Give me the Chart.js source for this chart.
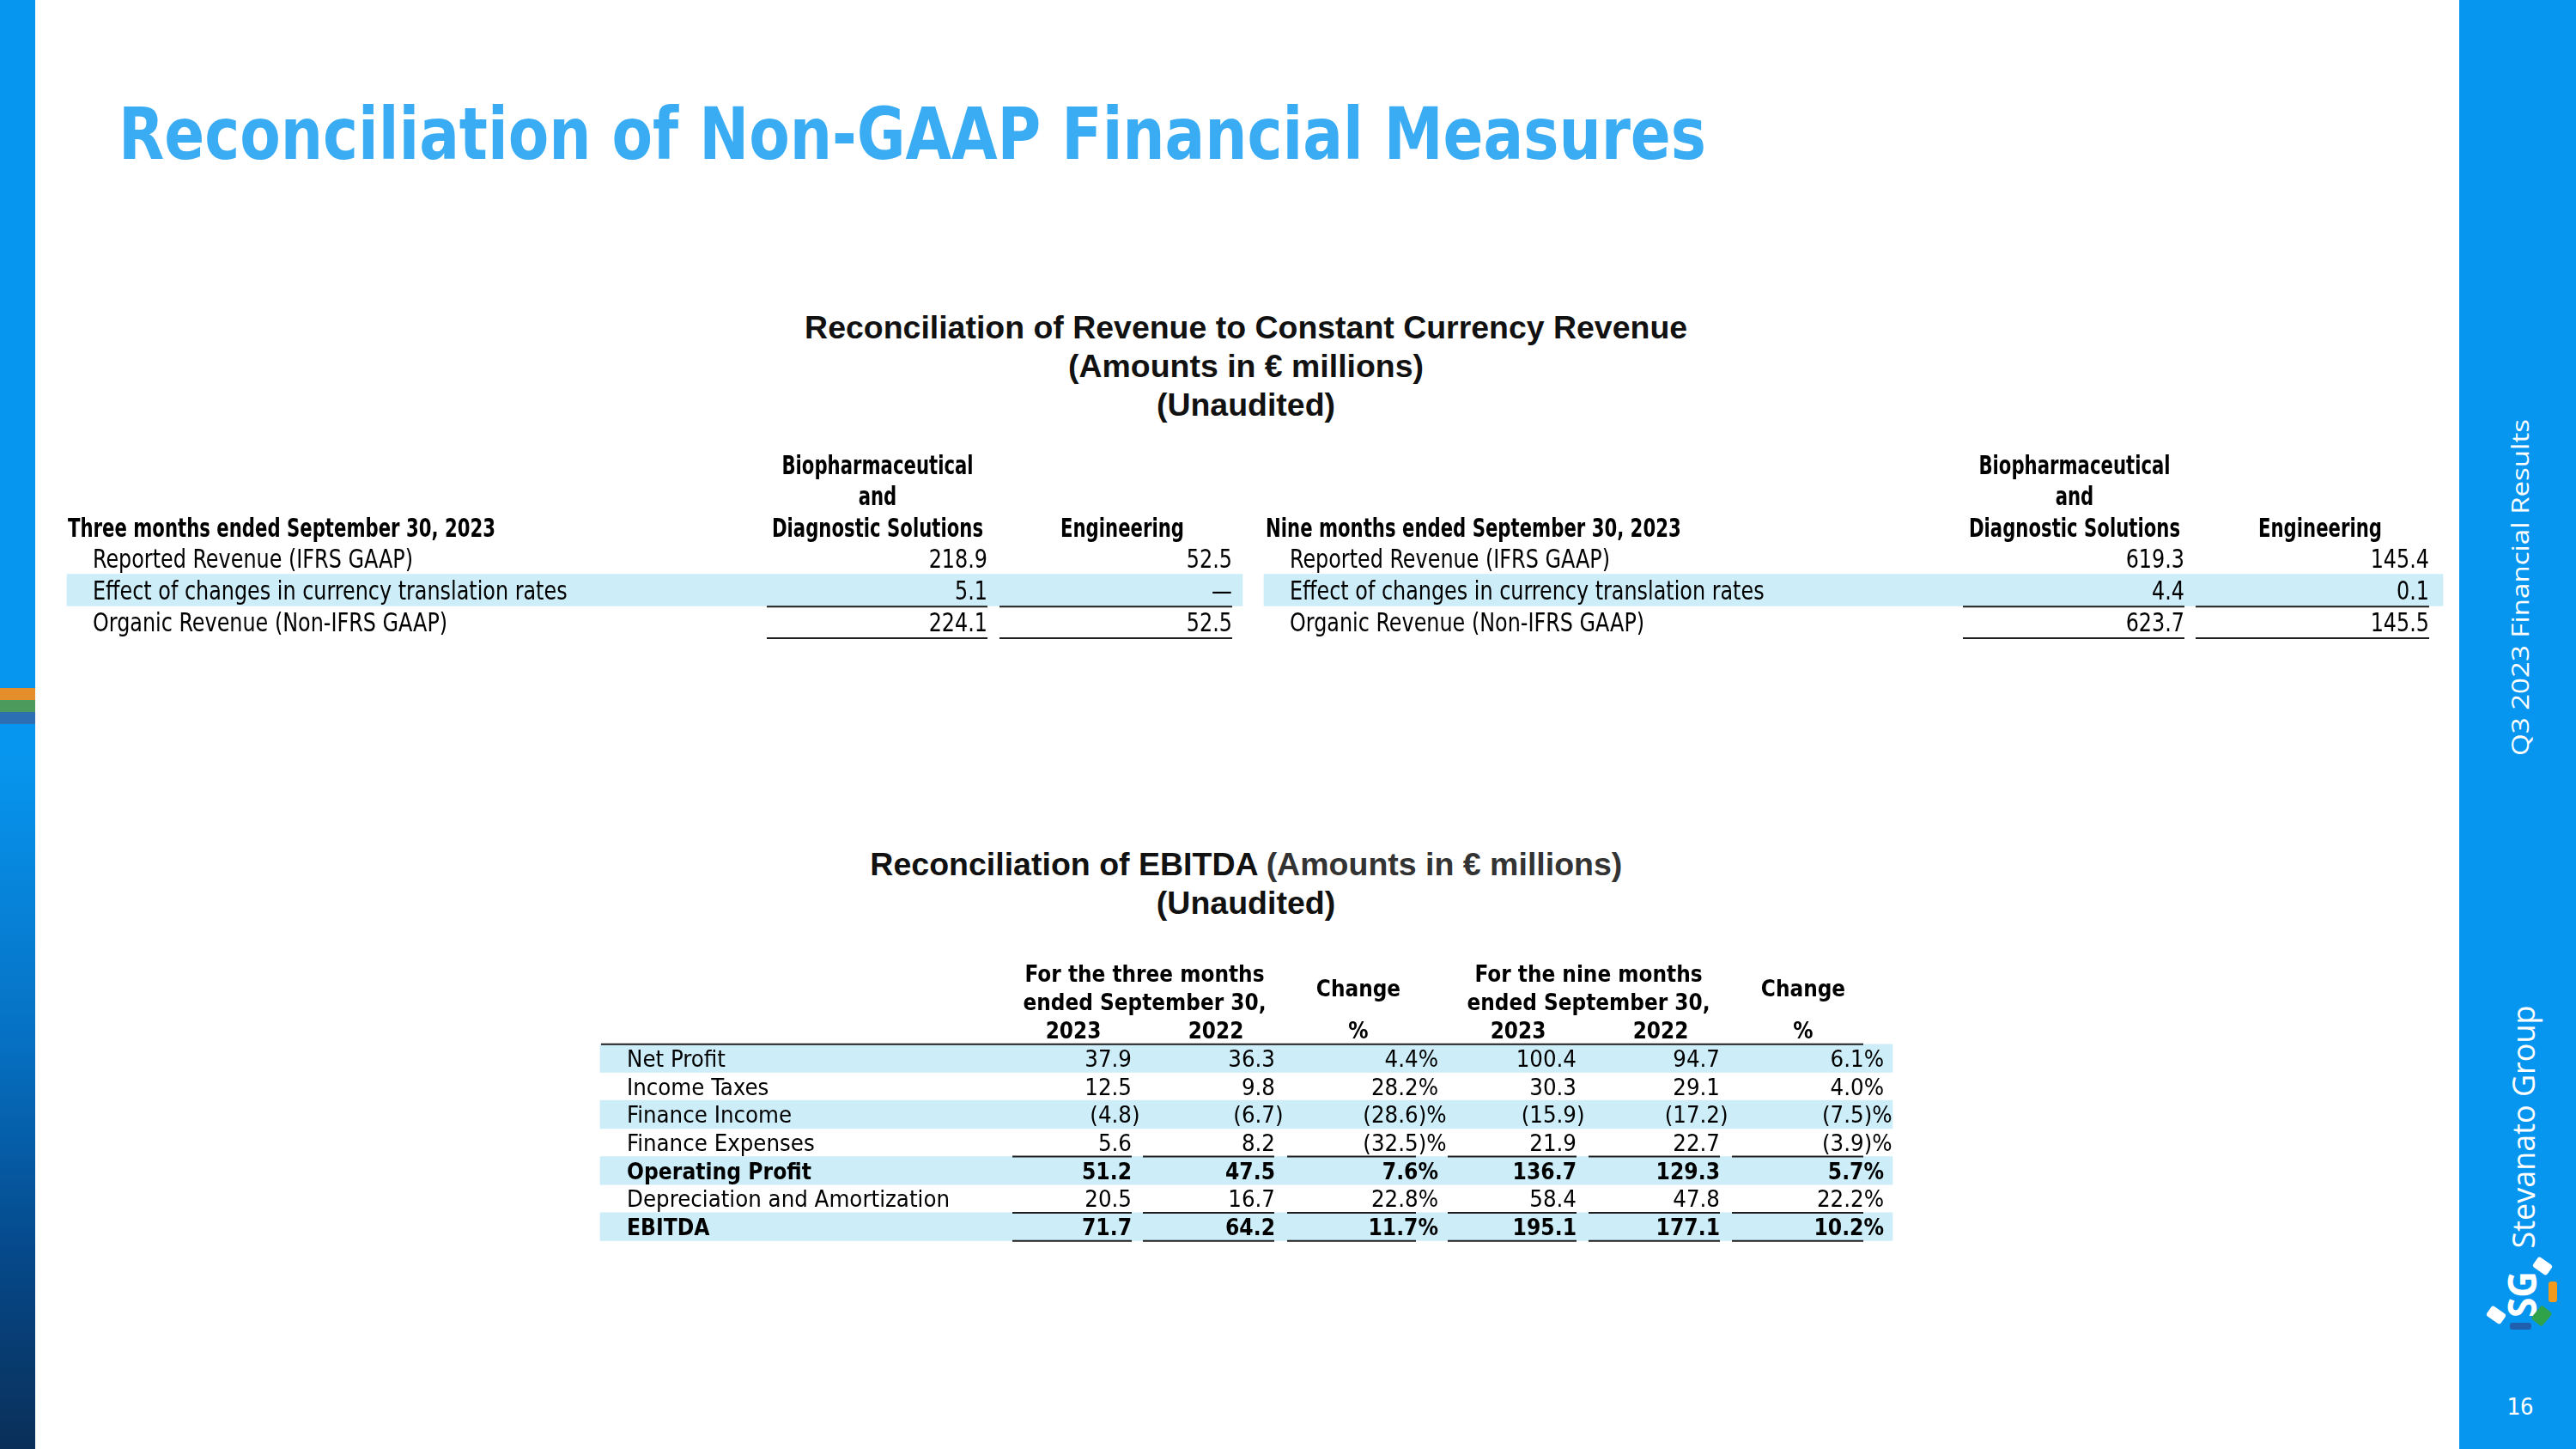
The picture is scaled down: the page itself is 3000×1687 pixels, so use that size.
<!DOCTYPE html>
<html>
<head>
<meta charset="utf-8">
<script src="https://cdn.jsdelivr.net/npm/chart.js@4.4.1/dist/chart.umd.min.js"></script>
<style>
  body { margin: 0; width: 3000px; height: 1687px; position: relative; overflow: hidden; background: #fff; }
  #leftbar { position: absolute; left: 0; top: 0; width: 41px; height: 1687px;
    background: linear-gradient(to bottom, #0796ef 0%, #0796ef 52%, #0670c2 72%, #054a8c 86%, #0a2f58 100%); }
  .stripe { position: absolute; left: 0; width: 41px; height: 14px; }
  #rightbar { position: absolute; left: 2864px; top: 0; width: 136px; height: 1687px; background: #0796ef; }
  #title { position: absolute; left: 138px; top: 114px; font: bold 84px "DejaVu Sans Condensed", "DejaVu Sans"; line-height: 84px;
    color: #3aacf4; white-space: nowrap; display: inline-block; transform-origin: 0 0; }
  .sect { position: absolute; left: 451px; width: 2000px; text-align: center; font: bold 36px "Liberation Sans", Arial; line-height: 45px; color: #111; }
  .sect span { display: inline-block; white-space: nowrap; transform-origin: 50% 50%; }
  .vert { position: absolute; color: #fff; white-space: nowrap; transform-origin: 0 0; }
  .piece { position: absolute; border-radius: 3px; }
  canvas { position: absolute; left: 0; }
</style>
</head>
<body>
<div id="leftbar"></div>
<div class="stripe" style="top:801px;background:#e58e2c"></div>
<div class="stripe" style="top:815px;background:#4c9a5c"></div>
<div class="stripe" style="top:829px;background:#2c6fb2"></div>
<div id="rightbar"></div>

<div id="title" data-w="1849">Reconciliation of Non-GAAP Financial Measures</div>

<div class="sect" style="top:359px" data-group="1028">
  <div><span>Reconciliation of Revenue to Constant Currency Revenue</span></div>
  <div><span>(Amounts in € millions)</span></div>
  <div><span>(Unaudited)</span></div>
</div>
<div class="sect" style="top:984px" data-group="876">
  <div><span>Reconciliation of EBITDA <span style="color:#333">(Amounts in € millions)</span></span></div>
  <div><span>(Unaudited)</span></div>
</div>

<div class="vert" data-cx="2934" data-cy="684" data-len="392" style="font: 28px 'Open Sans'">Q3 2023 Financial Results</div>
<div class="vert" data-cx="2937" data-cy="1312" data-len="283" style="font: 37px 'Open Sans'">Stevanato Group</div>
<div class="vert" data-cx="2936" data-cy="1507" data-len="54" style="font: bold 46px 'Open Sans'">SG</div>
<div class="piece" style="left:2951px;top:1467px;width:20px;height:14px;background:#fff;transform:rotate(35deg)"></div>
<div class="piece" style="left:2968px;top:1492px;width:10px;height:24px;background:#f29a1c"></div>
<div class="piece" style="left:2952px;top:1522px;width:16px;height:20px;background:#2fa24a;transform:rotate(40deg)"></div>
<div class="piece" style="left:2923px;top:1540px;width:25px;height:8px;background:#1f5fae"></div>
<div class="piece" style="left:2897px;top:1524px;width:20px;height:14px;background:#fff;transform:rotate(35deg)"></div>
<div style="position:absolute;left:2915px;top:1623px;width:40px;text-align:center;font:26px 'DejaVu Sans Mono';color:#fff">16</div>

<canvas id="revenue" width="2860" height="262" style="top:500px"></canvas>
<canvas id="ebitda" width="2860" height="360" style="top:1100px"></canvas>

<script>
// ---- data: revenue to constant currency ----
const revenuePeriods = ['Three months ended September 30, 2023', 'Nine months ended September 30, 2023'];
const revenueSegmentHeads = [['Biopharmaceutical', 'and', 'Diagnostic Solutions'], ['', '', 'Engineering']];
const revenueRowLabels = ['Reported Revenue (IFRS GAAP)', 'Effect of changes in currency translation rates', 'Organic Revenue (Non-IFRS GAAP)'];
const revenueShadedRows = ['Effect of changes in currency translation rates'];
const revenueRuleRows = ['Effect of changes in currency translation rates', 'Organic Revenue (Non-IFRS GAAP)'];
const threeMonthsBDS = [218.9, 5.1, 224.1];
const threeMonthsEng = [52.5, null, 52.5];
const nineMonthsBDS = [619.3, 4.4, 623.7];
const nineMonthsEng = [145.4, 0.1, 145.5];

// ---- data: EBITDA ----
const ebitdaGroups = [['For the three months', 'ended September 30,'], ['For the nine months', 'ended September 30,']];
const ebitdaColHeads = ['2023', '2022', '%', '2023', '2022', '%'];
const ebitdaRowLabels = ['Net Profit', 'Income Taxes', 'Finance Income', 'Finance Expenses', 'Operating Profit', 'Depreciation and Amortization', 'EBITDA'];
const ebitdaBoldRows = ['Operating Profit', 'EBITDA'];
const ebitdaShadedRows = ['Net Profit', 'Finance Income', 'Operating Profit', 'EBITDA'];
const ebitdaRuleRows = ['Finance Expenses', 'Depreciation and Amortization', 'EBITDA'];
const threeMonths2023 = [37.9, 12.5, -4.8, 5.6, 51.2, 20.5, 71.7];
const threeMonths2022 = [36.3, 9.8, -6.7, 8.2, 47.5, 16.7, 64.2];
const threeMonthsChange = [4.4, 28.2, -28.6, -32.5, 7.6, 22.8, 11.7];
const nineMonths2023 = [100.4, 30.3, -15.9, 21.9, 136.7, 58.4, 195.1];
const nineMonths2022 = [94.7, 29.1, -17.2, 22.7, 129.3, 47.8, 177.1];
const nineMonthsChange = [6.1, 4.0, -7.5, -3.9, 5.7, 22.2, 10.2];

// ---- layout (page pixels) ----
const REV = { top: 500, height: 262, firstRow: 540.6, rowH: 36.6,
  periodX: [79, 1474], labelX: [108, 1502],
  headCenter: [1022, 1307, 2416, 2702], numRight: [1150, 1435, 2544, 2829],
  band: [[78, 1447], [1472, 2845]],
  rules: [[893, 1150], [1164, 1435], [2286, 2544], [2557, 2829]] };
const EB = { top: 1100, height: 360, firstRow: 1134, rowH: 32.7,
  labelX: 730, groupCenter: [1333, 1850], changeCols: [2, 5],
  headCenter: [1250, 1416, 1582, 1768, 1934, 2100],
  numRight: [1318, 1485, 1675, 1836, 2003, 2194],
  band: [699, 2204], topRule: [700, 2170],
  rules: [[1179, 1318], [1331, 1484], [1499, 1649], [1686, 1836], [1850, 2003], [2017, 2170]] };

const FAM = '"DejaVu Sans Condensed", "DejaVu Sans"';
const S = {
  revHead: { size: 30, bold: true, sample: 'Three months ended September 30, 2023', width: 498 },
  revBody: { size: 30, bold: false, sample: 'Reported Revenue (IFRS GAAP)', width: 373 },
  ebHead: { size: 26, bold: true, sample: 'For the three months', width: 279 },
  ebBody: { size: 27, bold: false, sample: 'Depreciation and Amortization', width: 376 },
  ebBold: { size: 27, bold: true, sample: 'Operating Profit', width: 215 }
};
const BAND = '#cdeef9';

// horizontal fit factor for each text style
const mctx = document.createElement('canvas').getContext('2d');
Object.values(S).forEach(s => {
  s.font = (s.bold ? 'bold ' : '') + s.size + 'px ' + FAM;
  mctx.font = s.font;
  s.sx = s.width / mctx.measureText(s.sample).width;
});

function drawText(ctx, s, text, x, y, align) {
  ctx.save();
  ctx.font = s.font;
  ctx.fillStyle = '#000';
  ctx.textAlign = align;
  ctx.textBaseline = 'alphabetic';
  ctx.translate(x, y + s.size * 0.365);
  ctx.scale(s.sx, 1);
  ctx.fillText(text, 0, 0);
  ctx.restore();
}
function textW(ctx, s, text) {
  ctx.save(); ctx.font = s.font;
  const w = ctx.measureText(text).width * s.sx;
  ctx.restore();
  return w;
}
function fmt(v, pct) {
  if (v === null) return '\u2014';
  const n = Math.abs(v).toFixed(1);
  return v < 0 ? '(' + n + ')' + (pct ? '%' : '') : n + (pct ? '%' : '');
}
function rule(ctx, x0, x1, y) {
  ctx.save();
  ctx.strokeStyle = '#1e1e1e';
  ctx.lineWidth = 2;
  ctx.beginPath(); ctx.moveTo(x0, y); ctx.lineTo(x1, y); ctx.stroke();
  ctx.restore();
}

function tableOptions(box, rows) {
  const areaTop = box.firstRow - box.rowH / 2 - box.top;
  return {
    responsive: false, animation: false, devicePixelRatio: 1, events: [],
    indexAxis: 'y',
    layout: { padding: { top: areaTop, bottom: box.height - areaTop - rows * box.rowH, left: 0, right: 0 } },
    plugins: { legend: { display: false }, tooltip: { enabled: false } },
    scales: {
      x: { type: 'linear', min: 0, max: 2860, display: false },
      y: { type: 'category', display: false, offset: true }
    }
  };
}
function bandSet(keys, shaded, range) {
  return { data: keys.map(k => shaded.includes(k) ? range : null), backgroundColor: BAND,
    borderWidth: 0, barPercentage: 1, categoryPercentage: 1, grouped: false };
}

// ---- revenue table ----
const revKeys = ['head1', 'head2', 'head3'].concat(revenueRowLabels);
const revenueText = {
  id: 'revenueText',
  afterDatasetsDraw(chart) {
    const { ctx, scales: { x, y } } = chart;
    const rowH = y.getPixelForValue(1) - y.getPixelForValue(0);
    revenuePeriods.forEach((period, p) => {
      drawText(ctx, S.revHead, period, x.getPixelForValue(REV.periodX[p]), y.getPixelForValue(2), 'left');
      revenueSegmentHeads.forEach((lines, c) => {
        lines.forEach((t, k) => drawText(ctx, S.revHead, t, x.getPixelForValue(REV.headCenter[p * 2 + c]), y.getPixelForValue(k), 'center'));
      });
    });
    const cols = [threeMonthsBDS, threeMonthsEng, nineMonthsBDS, nineMonthsEng];
    revenueRowLabels.forEach((lab, r) => {
      const yy = y.getPixelForValue(r + 3);
      REV.labelX.forEach(lx => drawText(ctx, S.revBody, lab, x.getPixelForValue(lx), yy, 'left'));
      cols.forEach((c, j) => drawText(ctx, S.revBody, fmt(c[r]), x.getPixelForValue(REV.numRight[j]), yy, 'right'));
      if (revenueRuleRows.includes(lab)) {
        REV.rules.forEach(seg => rule(ctx, x.getPixelForValue(seg[0]), x.getPixelForValue(seg[1]), yy + rowH / 2 + 1));
      }
    });
  }
};
new Chart(document.getElementById('revenue'), {
  type: 'bar',
  data: { labels: revKeys, datasets: REV.band.map(b => bandSet(revKeys, revenueShadedRows, b)) },
  options: tableOptions(REV, revKeys.length),
  plugins: [revenueText]
});

// ---- EBITDA table ----
const ebKeys = ['head1', 'head2', 'head3'].concat(ebitdaRowLabels);
const ebitdaText = {
  id: 'ebitdaText',
  afterDatasetsDraw(chart) {
    const { ctx, scales: { x, y } } = chart;
    const rowH = y.getPixelForValue(1) - y.getPixelForValue(0);
    ebitdaGroups.forEach((lines, g) => {
      lines.forEach((t, k) => drawText(ctx, S.ebHead, t, x.getPixelForValue(EB.groupCenter[g]), y.getPixelForValue(k), 'center'));
    });
    EB.changeCols.forEach(c => drawText(ctx, S.ebHead, 'Change', x.getPixelForValue(EB.headCenter[c]),
      (y.getPixelForValue(0) + y.getPixelForValue(1)) / 2, 'center'));
    ebitdaColHeads.forEach((t, c) => drawText(ctx, S.ebHead, t, x.getPixelForValue(EB.headCenter[c]), y.getPixelForValue(2), 'center'));

    const firstTop = y.getPixelForValue(3) - rowH / 2;
    rule(ctx, x.getPixelForValue(EB.topRule[0]), x.getPixelForValue(EB.topRule[1]), firstTop);

    const cols = [threeMonths2023, threeMonths2022, threeMonthsChange, nineMonths2023, nineMonths2022, nineMonthsChange];
    ebitdaRowLabels.forEach((lab, r) => {
      const yy = y.getPixelForValue(r + 3);
      const st = ebitdaBoldRows.includes(lab) ? S.ebBold : S.ebBody;
      drawText(ctx, st, lab, x.getPixelForValue(EB.labelX), yy, 'left');
      const paren = textW(ctx, st, ')');
      cols.forEach((c, j) => {
        const v = c[r];
        const pct = EB.changeCols.includes(j);
        const xr = x.getPixelForValue(EB.numRight[j]) + (v < 0 ? paren : 0);
        drawText(ctx, st, fmt(v, pct), xr, yy, 'right');
      });
      if (ebitdaRuleRows.includes(lab)) {
        EB.rules.forEach(seg => rule(ctx, x.getPixelForValue(seg[0]), x.getPixelForValue(seg[1]), yy + rowH / 2));
      }
    });
  }
};
new Chart(document.getElementById('ebitda'), {
  type: 'bar',
  data: { labels: ebKeys, datasets: [bandSet(ebKeys, ebitdaShadedRows, EB.band)] },
  options: tableOptions(EB, ebKeys.length),
  plugins: [ebitdaText]
});

// ---- fit html text widths ----
const t = document.getElementById('title');
t.style.transform = 'scaleX(' + (t.dataset.w / t.getBoundingClientRect().width) + ')';
document.querySelectorAll('[data-group]').forEach(g => {
  const spans = g.querySelectorAll(':scope > div > span');
  const k = g.dataset.group / spans[0].getBoundingClientRect().width;
  spans.forEach(sp => sp.style.transform = 'scaleX(' + k + ')');
});
document.querySelectorAll('.vert').forEach(el => {
  const w = el.getBoundingClientRect().width;
  el.style.left = el.dataset.cx + 'px';
  el.style.top = el.dataset.cy + 'px';
  el.style.transform = 'rotate(-90deg) scaleX(' + (el.dataset.len / w) + ') translate(-50%, -50%)';
});
</script>
</body>
</html>
